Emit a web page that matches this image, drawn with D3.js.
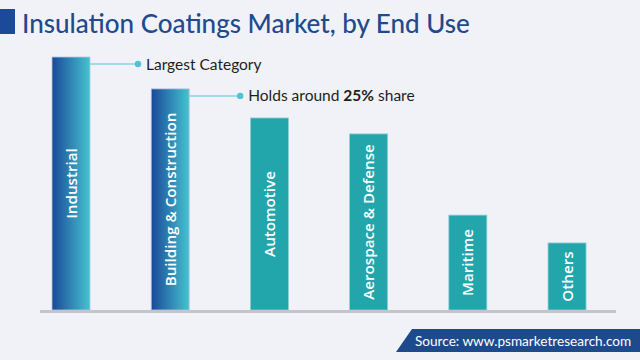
<!DOCTYPE html>
<html><head><meta charset="utf-8">
<script src="https://cdn.jsdelivr.net/npm/d3@7/dist/d3.min.js"></script>
<style>html,body{margin:0;padding:0;background:#f1f2f7;}svg{display:block;}</style>
</head><body>
<script>
const categories = ["Industrial","Building & Construction","Automotive","Aerospace & Defense","Maritime","Others"];
const values = [100, 87.4, 75.9, 69.6, 37.5, 26.5];
const highlighted = [true, true, false, false, false, false];
const titleText = "Insulation Coatings Market, by End Use";
const sourceText = "Source: www.psmarketresearch.com";

const W = 640, H = 360;
const svg = d3.select("body").append("svg").attr("width", W).attr("height", H);
svg.append("rect").attr("width", W).attr("height", H).attr("fill", "#f1f2f7");

const defs = svg.append("defs");
const grad = defs.append("linearGradient").attr("id","g1").attr("x1","0").attr("x2","1").attr("y1","0").attr("y2","0");
grad.append("stop").attr("offset","0%").attr("stop-color","#1a4898");
grad.append("stop").attr("offset","100%").attr("stop-color","#45c3cf");

// title
svg.append("rect").attr("x",0).attr("y",9).attr("width",15).attr("height",25).attr("fill","#1c4a9a");
svg.append("text").attr("x",22).attr("y",33).text(titleText)
  .attr("font-family","Lato, 'Open Sans', sans-serif").attr("font-size",26).attr("font-weight",500).attr("fill","#1f4a8e");

const x = d3.scaleBand().domain(categories).range([22.24, 615.8]).paddingInner(0.617).paddingOuter(0.3);
const y = d3.scaleLinear().domain([0, 100]).range([310, 57]);

const bars = svg.append("g").selectAll("g").data(categories).join("g");
bars.append("rect")
  .attr("x", d => x(d)).attr("width", x.bandwidth())
  .attr("y", (d,i) => y(values[i])).attr("height", (d,i) => y(0) - y(values[i]))
  .attr("fill", (d,i) => highlighted[i] ? "url(#g1)" : "#22a6ab")
  .attr("stroke", (d,i) => highlighted[i] ? "#b9c6e0" : "#8fd0d2").attr("stroke-width", 0.8);
bars.append("text")
  .attr("transform", (d,i) => `translate(${x(d) + x.bandwidth()/2 + 5.5},${(y(values[i]) + y(0))/2}) rotate(-90)`)
  .attr("text-anchor","middle").attr("fill","#fff")
  .attr("font-family","'Open Sans', sans-serif").attr("font-weight",600).attr("font-size",15.2)
  .text(d => d);

// baseline
svg.append("line").attr("x1",40).attr("x2",616).attr("y1",311.5).attr("y2",311.5).attr("stroke","#c4c5c9").attr("stroke-width",3);

// annotations
const ann = [
  {i:0, dx:48, parts:[["Largest Category",400]]},
  {i:1, dx:51, parts:[["Holds around ",400],["25%",700],[" share",400]]}
];
ann.forEach(a => {
  const c = categories[a.i];
  const yy = y(values[a.i]) + 7;
  const x0 = x(c) + x.bandwidth();
  svg.append("line").attr("x1",x0).attr("x2",x0+a.dx).attr("y1",yy).attr("y2",yy).attr("stroke","#86d3de").attr("stroke-width",1.5);
  svg.append("circle").attr("cx",x0+a.dx).attr("cy",yy).attr("r",3.2).attr("fill","#4fc3d3");
  const t = svg.append("text").attr("x",x0+a.dx+8).attr("y",yy+5.5)
    .attr("font-family","Lato, 'Open Sans', sans-serif").attr("font-size",15.5).attr("fill","#1e1e1e");
  a.parts.forEach(p => t.append("tspan").attr("font-weight",p[1]).text(p[0]));
});

// source banner
svg.append("path").attr("d","M412,329 L640,329 L640,352 L396,352 Z").attr("fill","#1c4a8c");
svg.append("text").attr("x",415).attr("y",346).text(sourceText)
  .attr("font-family","Lato, 'Open Sans', sans-serif").attr("font-size",13.6).attr("fill","#fff");
</script>
</body></html>
